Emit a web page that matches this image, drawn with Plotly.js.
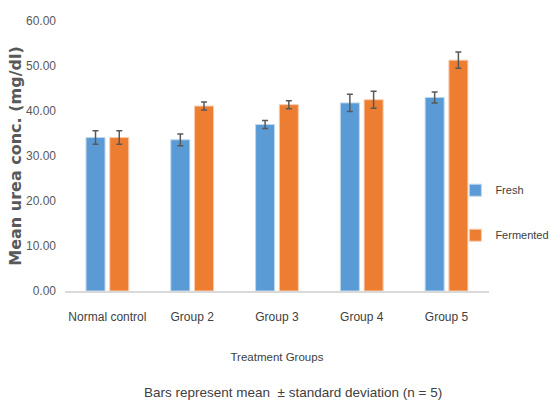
<!DOCTYPE html>
<html><head><meta charset="utf-8">
<script src="https://cdn.plot.ly/plotly-3.0.1.min.js"></script>
<style>html,body{margin:0;padding:0;background:#fff}#chart{width:549px;height:412px}</style>
</head><body><div id="chart"></div>
<script>
const categories = ["Normal control", "Group 2", "Group 3", "Group 4", "Group 5"];
const freshMean = [34.1, 33.6, 37.0, 41.8, 43.0];
const freshSD = [1.5, 1.3, 0.9, 1.9, 1.2];
const fermentedMean = [34.1, 41.1, 41.4, 42.5, 51.3];
const fermentedSD = [1.5, 0.9, 0.9, 1.9, 1.8];
const yTicks = [0, 10, 20, 30, 40, 50, 60];

const narrow = '"Liberation Sans Narrow", "Liberation Sans", sans-serif';
const nf = (size, color) => ({family: narrow, size: size, color: color});
const errStyle = {type: 'data', visible: true, color: '#595959', thickness: 1.5, width: 3};

const traces = [
  {type: 'bar', name: 'Fresh', x: categories, y: freshMean,
   error_y: Object.assign({array: freshSD}, errStyle),
   marker: {color: '#5B9BD5', line: {color: '#BDD7EE', width: 1}}, legendgroup: 'a'},
  {type: 'bar', name: 'Fermented', x: categories, y: fermentedMean,
   error_y: Object.assign({array: fermentedSD}, errStyle),
   marker: {color: '#ED7D31', line: {color: '#F8CBAD', width: 1}}, legendgroup: 'b'}
];

const layout = {
  width: 549, height: 412,
  margin: {l: 65, r: 5, t: 21, b: 121, autoexpand: false},
  paper_bgcolor: '#fff', plot_bgcolor: '#fff',
  barmode: 'group', bargap: 0.44, bargroupgap: 0.2,
  font: nf(12, '#595959'),
  xaxis: {
    domain: [0, 0.885],
    showgrid: false, showline: true, linecolor: '#D9D9D9', linewidth: 2,
    ticks: '', tickfont: nf(12, '#404040'), ticklabelstandoff: 14,
    title: {text: 'Treatment Groups', font: nf(11.5, '#404040'), standoff: 30}
  },
  yaxis: {
    range: [0, 60], tickvals: yTicks, tickformat: '.2f', showgrid: false, zeroline: false,
    showline: false, ticks: '', tickfont: nf(12, '#595959'), ticklabelstandoff: 8,
    title: {text: 'Mean urea conc. (mg/dl)', font: {family: '"DejaVu Sans", sans-serif', size: 16, color: '#595959', weight: 'bold'}, standoff: 0}
  },
  legend: {x: 0.815, xanchor: 'left', y: 0.29, yanchor: 'middle', tracegroupgap: 26,
    font: nf(11, '#404040'), bgcolor: 'rgba(0,0,0,0)', itemwidth: 30},
  annotations: [{
    text: 'Bars represent mean  ± standard deviation (n = 5)', xref: 'paper', yref: 'paper',
    x: 0.476, y: -0.376, xanchor: 'center', yanchor: 'middle', showarrow: false,
    font: nf(13.5, '#404040')
  }]
};

Plotly.newPlot('chart', traces, layout, {displayModeBar: false, staticPlot: true});
</script></body></html>
